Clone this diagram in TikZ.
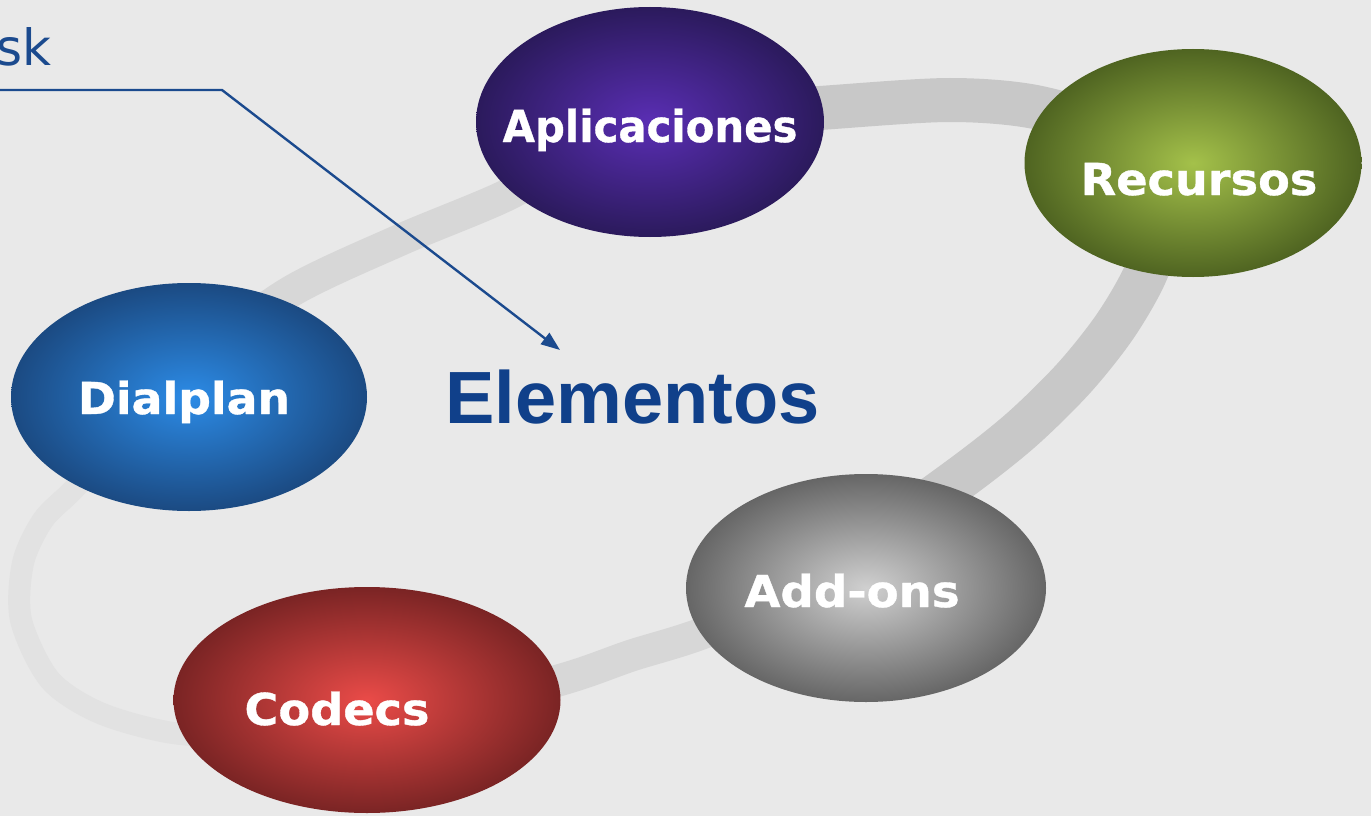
\documentclass[tikz,border=0pt]{standalone}
\usepackage{fontspec}
\setmainfont{DejaVu Sans}
\newfontfamily\labfont[BoldFeatures={FakeBold=0.8}]{DejaVu Sans}
\newfontfamily\elfont{Liberation Sans}
\usetikzlibrary{shapes.geometric,arrows.meta}
\definecolor{bgc}{HTML}{E9E9E9}
\definecolor{ringdark}{HTML}{C8C8C8}
\definecolor{ringmid}{HTML}{D7D7D7}
\definecolor{ringlight}{HTML}{E2E2E2}
\definecolor{navy}{HTML}{10408A}
\definecolor{arrowc}{HTML}{1B4A8E}
\definecolor{aplin}{HTML}{5A2EB4}\definecolor{aplout}{HTML}{2B1A5C}
\definecolor{recin}{HTML}{A4C14A}\definecolor{recout}{HTML}{4F6421}
\definecolor{diain}{HTML}{2C8BE6}\definecolor{diaout}{HTML}{1B4A82}
\definecolor{addin}{HTML}{D0D0D0}\definecolor{addout}{HTML}{666666}
\definecolor{codin}{HTML}{EA4B48}\definecolor{codout}{HTML}{7A2424}
\newcommand\ringdraw[1]{\draw[#1] plot[smooth cycle, tension=0.5] coordinates {
 (700,117) (820,108) (950,100) (1040,108) (1120,138) (1162,212) (1147,270)
 (1116,325) (1074,378) (1020,431) (955,482) (850,555) (720,626) (630,656) (560,680)
 (400,722) (250,735) (173,733) (100,713) (50,680) (21,620) (23,563) (43,520) (73,490)
 (125,435) (200,360) (290,292) (400,240) (505,196) (600,145)};}
\begin{document}
\begin{tikzpicture}[x=1pt,y=-1pt,
  ell/.style={ellipse, inner sep=0pt, draw=none, shading=radial},
  lab/.style={text=white, font=\labfont\bfseries\fontsize{44}{44}\selectfont, anchor=base, inner sep=0pt},
  ringline/.style={line cap=butt}]
\useasboundingbox (0,0) rectangle (1371,816);
\fill[bgc] (0,0) rectangle (1371,816);
% ring
\begin{scope}
 \clip (650,-10) -- (1400,-10) -- (1400,830) -- (866,830) -- (866,588) -- (650,122) -- cycle;
 \ringdraw{ringline, ringdark, line width=44}
\end{scope}
\begin{scope}
 \clip (367,700) -- (367,830) -- (-10,830) -- (-10,397) -- (189,397) -- cycle;
 \ringdraw{ringline, ringlight, line width=22}
\end{scope}
\begin{scope}
 \clip (650,-10) -- (650,122) -- (866,588) -- (866,830) -- (367,830) -- (367,700) -- (189,397) -- (-10,397) -- (-10,-10) -- cycle;
 \ringdraw{ringline, ringmid, line width=32}
\end{scope}
% ellipses
\node[ell, minimum width=348, minimum height=230, inner color=aplin, outer color=aplout] (apl) at (650,122) {};
\node[ell, minimum width=337, minimum height=228, inner color=recin, outer color=recout] (rec) at (1193,163) {};
\node[ell, minimum width=356, minimum height=228, inner color=diain, outer color=diaout] (dia) at (189,397) {};
\node[ell, minimum width=360, minimum height=228, inner color=addin, outer color=addout] (add) at (866,588) {};
\node[ell, minimum width=387, minimum height=226, inner color=codin, outer color=codout] (cod) at (367,700) {};
% labels
\node[lab] (tapl) at (650,142) {\scalebox{0.95}[1]{Aplicaciones}};
\node[lab] (trec) at (1199,195) {\scalebox{1.05}[1]{Recursos}};
\node[lab] (tdia) at (184,414) {\scalebox{1.04}[1]{Dialplan}};
\node[lab] (tadd) at (852,607) {\scalebox{1.06}[1]{Add-ons}};
\node[lab] (tcod) at (337,725) {\scalebox{1.05}[1]{Codecs}};
% title
\node[anchor=base west, inner sep=0pt, text=navy, font=\elfont\bfseries\fontsize{74}{74}\selectfont] (elem) at (445,423) {Elementos};
\node[anchor=base east, inner sep=0pt, text=arrowc, font=\fontsize{50}{50}\selectfont] (sk) at (52,66) {sk};
% arrow
\coordinate (a0) at (0,90);
\coordinate (a1) at (222,90);
\coordinate (a2) at (560,350);
\draw[arrowc, line width=2.4, -{Triangle[length=19,width=14]}] (a0) -- (a1) -- (a2);
\end{tikzpicture}
\end{document}
